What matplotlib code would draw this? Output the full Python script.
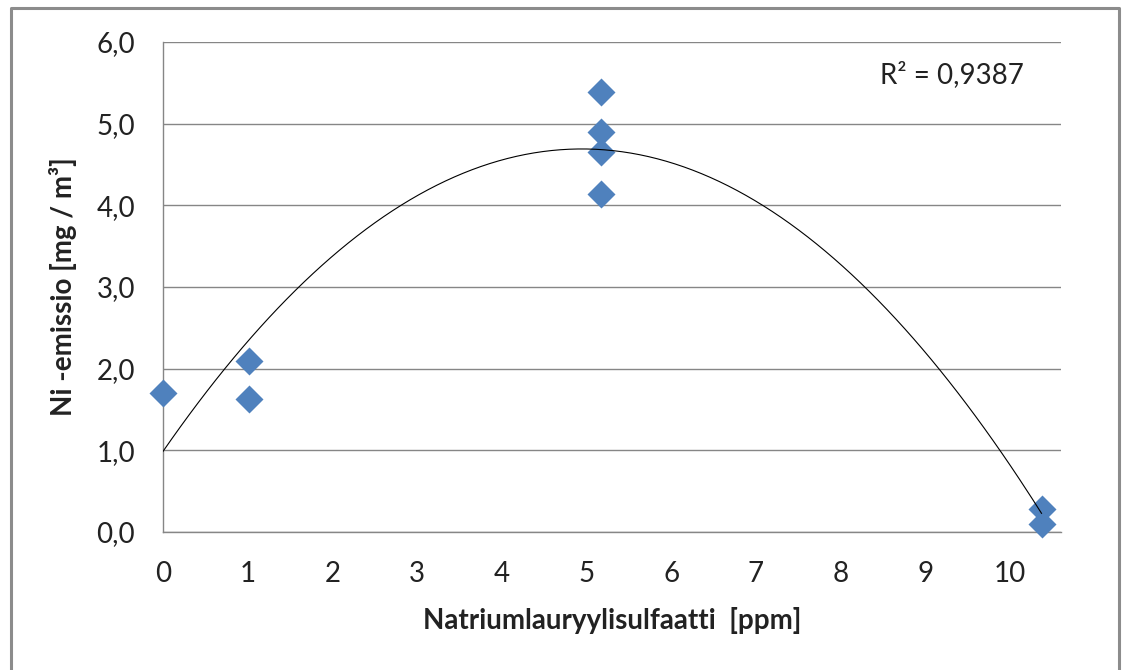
import numpy as np
import matplotlib
matplotlib.use("Agg")
import matplotlib.pyplot as plt
from matplotlib.ticker import FuncFormatter, MultipleLocator
from matplotlib.lines import Line2D

plt.rcParams["font.family"] = ["Lato", "DejaVu Sans"]

# data
sls_ppm = [0.0, 1.02, 1.02, 5.17, 5.17, 5.17, 5.17, 10.37, 10.37]
ni_emission = [1.70, 2.10, 1.63, 5.39, 4.90, 4.65, 4.14, 0.28, 0.10]
r2_label = "R² = 0,9387"
xlabel = "Natriumlauryylisulfaatti  [ppm]"
ylabel = "Ni -emissio [mg / m³]"

BLUE = "#4F81BD"
GRID = "#868686"
TXT = "#222222"
W, H = 1122, 670

x = np.array(sls_ppm)
y = np.array(ni_emission)

fig = plt.figure(figsize=(W / 100, H / 100), dpi=100)
ax = fig.add_axes([163 / W, 1 - 532 / H, (1061 - 163) / W, (532 - 42) / H])

# 2nd order polynomial trendline (Excel style), drawn over the markers
coef = np.polyfit(x, y, 2)
xs = np.linspace(x.min(), x.max(), 200)
ax.plot(x, y, "D", color=BLUE, ms=14, mec="none", zorder=3, clip_on=False)
ax.plot(xs, np.polyval(coef, xs), color="black", lw=0.8, zorder=4)

ax.set_xlim(0, 10.6)
ax.set_ylim(0, 6)
ax.set_xticks(range(0, 11))
ax.yaxis.set_major_locator(MultipleLocator(1))
ax.yaxis.set_major_formatter(FuncFormatter(lambda v, p: f"{v:.1f}".replace(".", ",")))
ax.grid(axis="y", color=GRID, lw=1)
ax.set_axisbelow(True)
for s in ["top", "right"]:
    ax.spines[s].set_visible(False)
for s in ["left", "bottom"]:
    ax.spines[s].set_color(GRID)
    ax.spines[s].set_linewidth(1)
ax.tick_params(length=0, labelsize=20, colors=TXT)
ax.tick_params(axis="y", pad=20)
ax.tick_params(axis="x", pad=21)

ax.set_xlabel(xlabel, fontsize=20, fontweight="bold", labelpad=14, color=TXT)
ax.set_ylabel(ylabel, fontsize=20, fontweight="bold", labelpad=14, color=TXT)

ax.text(0.959, 0.933, r2_label, transform=ax.transAxes, fontsize=20,
        ha="right", va="center", color=TXT)

# outer frame (bottom edge falls outside the image)
fx = [10.5 / W, 10.5 / W, 1119 / W, 1119 / W]
fy = [-0.05, 1 - 7.5 / H, 1 - 7.5 / H, -0.05]
fig.lines.append(Line2D(fx, fy, transform=fig.transFigure, color="#8c8c8c", lw=2.2))

fig.savefig("out.png", dpi=100)
